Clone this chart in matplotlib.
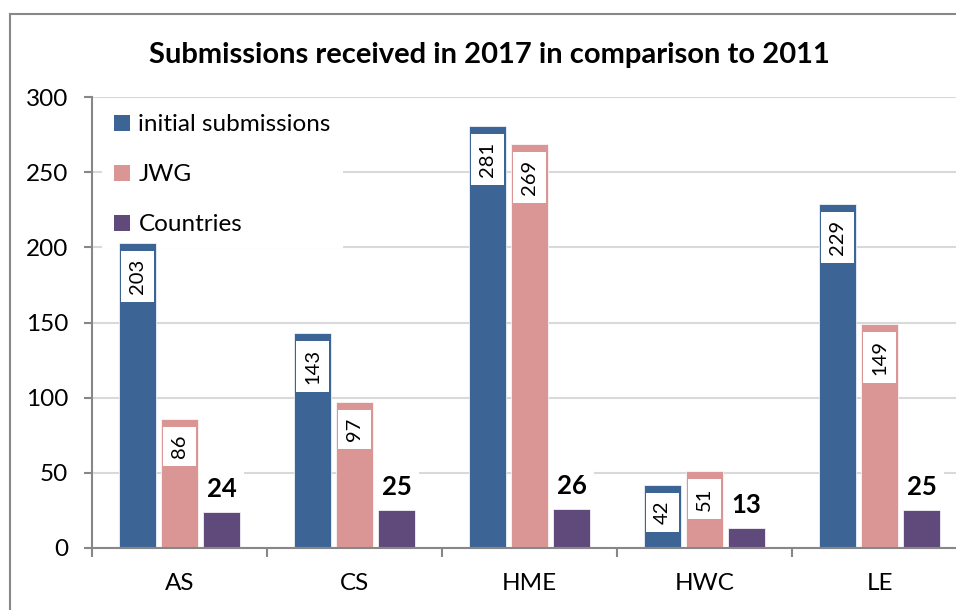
import numpy as np
import matplotlib.pyplot as plt
from matplotlib.patches import Patch, Rectangle
from matplotlib.lines import Line2D

plt.rcParams['font.family'] = ['Lato', 'DejaVu Sans']

# ---------- data ----------
categories = ['AS', 'CS', 'HME', 'HWC', 'LE']
initial_submissions = [203, 143, 281, 42, 229]
jwg = [86, 97, 269, 51, 149]
countries = [24, 25, 26, 13, 25]

series_names = ['initial submissions', 'JWG', 'Countries']
colors = ['#3C6595', '#D99694', '#604A7B']
title = 'Submissions received in 2017 in comparison to 2011'

# ---------- figure ----------
fig = plt.figure(figsize=(9.56, 6.10), dpi=100)
ax = fig.add_axes([92 / 956, 62 / 610, 875 / 956, 451 / 610])

x = np.arange(len(categories))
step = 0.24
width = 0.206
for i, (vals, col) in enumerate(zip([initial_submissions, jwg, countries], colors)):
    ax.bar(x + (i - 1) * step, vals, width=width, color=col,
           edgecolor='white', linewidth=0.5, zorder=2)

ax.set_xlim(-0.5, len(categories) - 0.5)
ax.set_ylim(0, 300)
ax.set_yticks(np.arange(0, 301, 50))
ax.set_xticks(x)
ax.set_xticklabels(categories)
ax.set_xticks(np.arange(-0.5, len(categories), 1.0), minor=True)

ax.yaxis.grid(True, color='#D9D9D9', linewidth=1.5, zorder=0)
ax.set_axisbelow(True)
for s in ['top', 'right']:
    ax.spines[s].set_visible(False)
for s in ['left', 'bottom']:
    ax.spines[s].set_color('#878787')
    ax.spines[s].set_linewidth(1.5)

ax.tick_params(axis='y', direction='out', length=6, width=1.5, color='#878787',
               pad=11, labelsize=17.5)
ax.tick_params(axis='x', which='major', length=0, pad=18, labelsize=17.5)
ax.tick_params(axis='x', which='minor', direction='out', length=6.5, width=1.5,
               color='#878787')

# value labels inside the first two series
inner = []
for i, vals in enumerate([initial_submissions, jwg]):
    for xc, v in zip(x + (i - 1) * step, vals):
        t = ax.annotate(str(v), xy=(xc, v), xytext=(0, -11.5),
                        textcoords='offset points', rotation=90,
                        ha='center', va='top', fontsize=14.5, zorder=4)
        inner.append((t, xc))

# bold labels above the countries bars
for xc, v in zip(x + step, countries):
    ax.annotate(str(v), xy=(xc, v), xytext=(0, 8), textcoords='offset points',
                ha='center', va='bottom', fontsize=18.5, fontweight='bold',
                bbox=dict(boxstyle='square,pad=0.3', fc='white', ec='none'),
                zorder=4)

# white boxes behind the inner labels, as wide as the bar
fig.canvas.draw()
px_per_unit = ax.bbox.height / 300
pad = 8 / px_per_unit
for t, xc in inner:
    bb = t.get_window_extent().transformed(ax.transData.inverted())
    ax.add_patch(Rectangle((xc - width / 2 + 0.008, bb.y0 - pad),
                           width - 0.016, bb.height + 2 * pad,
                           fc='white', ec='none', zorder=3))

handles = [Patch(facecolor=c, edgecolor='none') for c in colors]
leg = ax.legend(handles, series_names, loc='upper left',
                bbox_to_anchor=(10 / 875, 1 - 5 / 451), borderaxespad=0,
                fontsize=17.5, handlelength=0.65, handleheight=0.65,
                handletextpad=0.35, labelspacing=1.2, borderpad=0.5,
                frameon=True, fancybox=False, framealpha=1,
                facecolor='white', edgecolor='none')
# keep the legend over the gridlines but under the bars
leg.set_zorder(1)

fig.text(489 / 956, 1 - 55 / 610, title, ha='center', va='center',
         fontsize=21, fontweight='bold')

# chart border
fig.add_artist(Line2D([9.5 / 956, 9.5 / 956], [0, 1 - 14 / 610],
                      transform=fig.transFigure, color='#888888', linewidth=1.5))
fig.add_artist(Line2D([9.5 / 956, 1], [1 - 14 / 610, 1 - 14 / 610],
                      transform=fig.transFigure, color='#888888', linewidth=1.5))

fig.savefig('out.png', dpi=100)
